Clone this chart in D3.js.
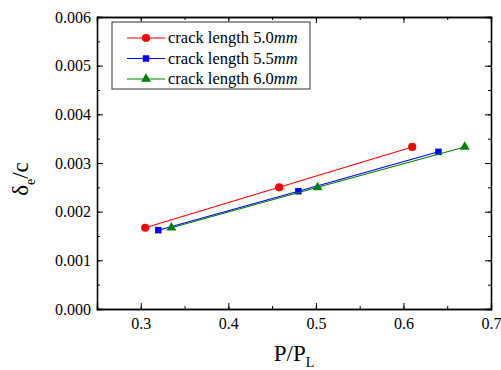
<!DOCTYPE html>
<html>
<head>
<meta charset="utf-8">
<script src="https://cdn.jsdelivr.net/npm/d3@7"></script>
<style>
body { margin: 0; background: #fff; }
</style>
</head>
<body>
<div id="chart"></div>
<script>
// data
var series = ["crack length 5.0", "crack length 5.5", "crack length 6.0"];
var colors = ["#ff0000", "#0000ff", "#008000"];
var load50 = [0.305, 0.458, 0.610];
var delta50 = [0.00167, 0.00250, 0.00333];
var load55 = [0.320, 0.480, 0.640];
var delta55 = [0.00162, 0.00242, 0.00323];
var load60 = [0.335, 0.502, 0.670];
var delta60 = [0.00167, 0.00250, 0.00333];
var xTicks = [0.3, 0.4, 0.5, 0.6, 0.7];
var yTicks = [0, 0.001, 0.002, 0.003, 0.004, 0.005, 0.006];

var serif = "'Liberation Serif', 'Times New Roman', 'DejaVu Serif', serif";

var margin = {top: 17, right: 10, bottom: 61, left: 97},
width = 501 - margin.left - margin.right,
height = 370 - margin.top - margin.bottom;

var x = d3.scaleLinear().domain([0.25, 0.7]).range([0, width]);
var y = d3.scaleLinear().domain([0, 0.006]).range([height, 0]);

var svg = d3.select("#chart").append("svg")
.attr("width", 501)
.attr("height", 370)
.append("g")
.attr("font-family", serif)
.attr("transform", "translate(" + margin.left + "," + margin.top + ")");

var xMinor = d3.range(0.25, 0.7001, 0.05);
var yMinor = d3.range(0, 0.00601, 0.0005);

// axes, ticks inward on all four sides
function axisStyle(g) {
  g.attr("font-family", serif);
  g.select(".domain").attr("stroke", "#000").attr("stroke-width", 1.3);
  g.selectAll(".tick line").attr("stroke", "#000");
}

svg.append("g")
.attr("transform", "translate(0," + height + ")")
.call(d3.axisBottom(x).tickValues(xMinor).tickSize(-3).tickFormat(""))
.call(axisStyle);
svg.append("g")
.attr("transform", "translate(0," + height + ")")
.call(d3.axisBottom(x).tickValues(xTicks).tickSize(-6).tickPadding(9).tickFormat(d3.format(".1f")))
.call(axisStyle)
.selectAll("text").attr("font-size", 16).attr("fill", "#000");

svg.append("g")
.call(d3.axisTop(x).tickValues(xMinor).tickSize(-3).tickFormat(""))
.call(axisStyle);
svg.append("g")
.call(d3.axisTop(x).tickValues(xTicks).tickSize(-6).tickFormat(""))
.call(axisStyle);

svg.append("g")
.call(d3.axisLeft(y).tickValues(yMinor).tickSize(-3).tickFormat(""))
.call(axisStyle);
svg.append("g")
.call(d3.axisLeft(y).tickValues(yTicks).tickSize(-6).tickPadding(6).tickFormat(d3.format(".3f")))
.call(axisStyle)
.selectAll("text").attr("font-size", 16).attr("fill", "#000");

svg.append("g")
.attr("transform", "translate(" + width + ",0)")
.call(d3.axisRight(y).tickValues(yMinor).tickSize(-3).tickFormat(""))
.call(axisStyle);
svg.append("g")
.attr("transform", "translate(" + width + ",0)")
.call(d3.axisRight(y).tickValues(yTicks).tickSize(-6).tickFormat(""))
.call(axisStyle);

// axis titles
var xt = svg.append("text")
.attr("x", width / 2)
.attr("y", height + 52)
.attr("text-anchor", "middle")
.attr("font-size", 23);
xt.append("tspan").text("P/P");
xt.append("tspan").attr("font-size", 14).attr("dy", 6).text("L");

var yt = svg.append("text")
.attr("transform", "translate(-69,162) rotate(-90)")
.attr("text-anchor", "middle")
.attr("font-size", 23);
yt.append("tspan").text("δ");
yt.append("tspan").attr("font-size", 14).attr("dy", 7).text("e");
yt.append("tspan").attr("dy", -7).text("/c");

// lines and markers
var data = [
  d3.zip(load50, delta50),
  d3.zip(load55, delta55),
  d3.zip(load60, delta60)
];
var shapes = [d3.symbolCircle, d3.symbolSquare, d3.symbolTriangle];
var sizes = [52, 42, 42];

var line = d3.line()
.x(function(d) { return x(d[0]); })
.y(function(d) { return y(d[1]); });

data.forEach(function(pts, i) {
  svg.append("path")
  .datum(pts)
  .attr("fill", "none")
  .attr("stroke", colors[i])
  .attr("stroke-width", 1.1)
  .attr("d", line);

  svg.selectAll(".m" + i)
  .data(pts)
  .enter().append("path")
  .attr("class", "m" + i)
  .attr("transform", function(d) { return "translate(" + x(d[0]) + "," + y(d[1]) + ")"; })
  .attr("d", d3.symbol().type(shapes[i]).size(sizes[i]))
  .attr("fill", colors[i]);
});

// legend
var lg = svg.append("g").attr("transform", "translate(15,5)");
lg.append("rect")
.attr("width", 198)
.attr("height", 67)
.attr("fill", "#fff")
.attr("stroke", "#333")
.attr("stroke-width", 1);

series.forEach(function(s, i) {
  var row = lg.append("g").attr("transform", "translate(0," + (16 + i * 20.5) + ")");
  row.append("line")
  .attr("x1", 15).attr("x2", 53)
  .attr("stroke", colors[i]).attr("stroke-width", 1.1);
  row.append("path")
  .attr("transform", "translate(34,0)")
  .attr("d", d3.symbol().type(shapes[i]).size(sizes[i]))
  .attr("fill", colors[i]);
  var t = row.append("text")
  .attr("x", 56)
  .attr("dy", "0.32em")
  .attr("font-size", 16.5);
  t.append("tspan").text(s);
  t.append("tspan").attr("font-style", "italic").text("mm");
});
</script>
</body>
</html>
